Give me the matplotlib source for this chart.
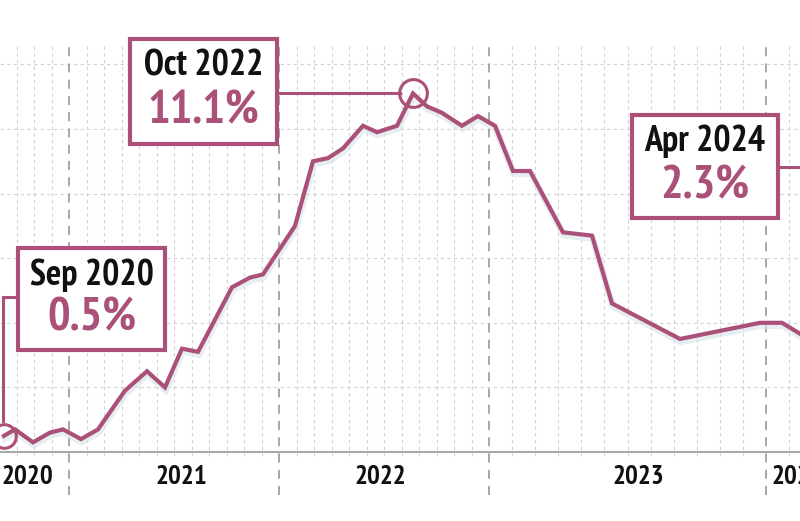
import matplotlib
matplotlib.use("Agg")
import matplotlib.pyplot as plt
from matplotlib.patches import Rectangle
import matplotlib.patheffects as pe

# ---------------- data ----------------
# horizontal position along the (non-uniform) time axis, chart units 0..800
x_pos = [4, 15, 33, 50, 63, 81, 98, 125, 147, 165, 182, 198, 232, 250, 263,
         295, 313, 328, 343, 363, 377, 397, 413, 427, 442, 462, 478, 495,
         513, 530, 563, 592, 612, 680, 760, 782, 814]
inflation = [0.5, 0.7, 0.3, 0.6, 0.7, 0.4, 0.7, 1.9, 2.5, 2.0, 3.2, 3.1, 5.1,
             5.4, 5.5, 7.0, 9.0, 9.1, 9.4, 10.1, 9.9, 10.1, 11.1, 10.7, 10.5,
             10.1, 10.4, 10.1, 8.7, 8.7, 6.8, 6.7, 4.6, 3.5, 4.0, 4.0, 3.4]
year_labels = ["2020", "2021", "2022", "2023", "2024"]
year_label_x = [27, 181, 380, 638, 797]
year_lines = [69, 279, 489, 766]
y_grid = [2, 4, 6, 8, 10, 12]
callouts = [("Sep 2020", "0.5%"), ("Oct 2022", "11.1%"), ("Apr 2024", "2.3%")]

# ---------------- styling ----------------
W, H = 800, 521
MAUVE = "#AA5079"
FONT = ["PT Sans Narrow", "Fira Sans Condensed", "Roboto Condensed", "DejaVu Sans"]

fig = plt.figure(figsize=(W / 100, H / 100), dpi=100)
fig.patch.set_facecolor("white")

PX_PER_PCT = 32.3
BASE_PX = 452
ax = fig.add_axes([0, 0, 1, 1])
ax.set_xlim(0, W)
ax.set_ylim((BASE_PX - H) / PX_PER_PCT, BASE_PX / PX_PER_PCT)
ax.axis("off")

ov = fig.add_axes([0, 0, 1, 1], zorder=5)
ov.set_xlim(0, W)
ov.set_ylim(H, 0)
ov.axis("off")
ov.patch.set_alpha(0)

def to_pct(ypx):
    return (BASE_PX - ypx) / PX_PER_PCT

# minor vertical grid
minor = []
for k in range(1, 4):
    minor.append(year_lines[0] - 17.5 * k)
for a, b in zip(year_lines[:-1], year_lines[1:]):
    step = (b - a) / 12
    for k in range(1, 12):
        minor.append(a + step * k)
minor.append(year_lines[-1] + (year_lines[-1] - year_lines[-2]) / 12)
ax.vlines(minor, to_pct(456), to_pct(45), colors="#d2d2d2", lw=0.8,
          linestyles=(0, (3, 3)), zorder=1)
ax.hlines(y_grid, 0, W, colors="#d2d2d2", lw=0.8, linestyles=(0, (3, 3)), zorder=1)
ax.vlines(year_lines, to_pct(495), to_pct(45), colors="#a0a0a0", lw=1.3,
          linestyles=(0, (5, 4)), zorder=1.5)
ax.hlines(0, 0, W, colors="#a8a8a8", lw=1.5, zorder=2)

for lab, xx in zip(year_labels, year_label_x):
    ax.text(xx, to_pct(477), lab, ha="center", va="center", fontsize=19.5,
            fontweight="bold", family=FONT, color="#111111", zorder=3)

ax.plot(x_pos, inflation, color=MAUVE, lw=3.0, solid_joinstyle="miter",
        zorder=4,
        path_effects=[pe.SimpleLineShadow(offset=(0.5, -2.0), shadow_color="#d8e4e8",
                                          alpha=0.6, linewidth=5),
                      pe.Normal()])

i_sep = 0
i_oct = inflation.index(max(inflation))
ax.plot([x_pos[i_sep]], [inflation[i_sep]], marker="o", ms=17, mfc="none",
        mec=MAUVE, mew=2.2, zorder=6)
ax.plot([x_pos[i_oct]], [inflation[i_oct]], marker="o", ms=20, mfc="none",
        mec=MAUVE, mew=2.2, zorder=6)

boxes = [(18, 248, 165, 350), (130, 39, 277, 144), (632, 115, 778, 218)]
line1_y = [275, 66, 141]
line2_y = [318, 111, 186]
for (t1, t2), (x0, y0, x1, y1), ly1, ly2 in zip(callouts, boxes, line1_y, line2_y):
    ov.add_patch(Rectangle((x0, y0), x1 - x0, y1 - y0, facecolor="white",
                           edgecolor=MAUVE, lw=3.0, zorder=5))
    cx = (x0 + x1) / 2
    ov.text(cx, ly1, t1, ha="center", va="center", fontsize=26,
            fontweight="bold", family=FONT, color="#111111", zorder=6)
    ov.text(cx, ly2, t2, ha="center", va="center", fontsize=34,
            fontweight="bold", family=FONT, color=MAUVE, zorder=6)

ov.plot([18, 3, 3], [297, 297, 421], color=MAUVE, lw=2.2, zorder=4,
        solid_joinstyle="miter")
ov.plot([277, 400], [93, 93], color=MAUVE, lw=2.2, zorder=4)
ov.plot([778, 800], [167, 167], color=MAUVE, lw=2.2, zorder=4)

fig.savefig("out.png", dpi=100, facecolor="white")
